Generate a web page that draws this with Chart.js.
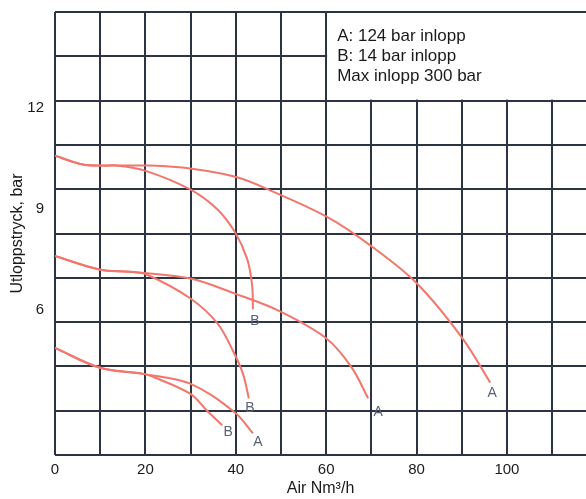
<!DOCTYPE html>
<html>
<head>
<meta charset="utf-8">
<script src="https://cdn.jsdelivr.net/npm/chart.js@4.4.0/dist/chart.umd.min.js"></script>
<style>
  html, body { margin: 0; padding: 0; background: #fff; overflow: hidden; }
  #wrap { width: 586px; height: 499px; }
</style>
</head>
<body>
<div id="wrap"><canvas id="chart"></canvas></div>
<script>
// Data (x: Air Nm³/h, y: bar)
const topAX = [0, 6.2, 10, 13.7, 21, 29.9, 40.3, 47.6, 60.2, 70.2, 80.1, 90.1, 96.3];
const topAY = [10.58, 10.32, 10.29, 10.29, 10.29, 10.2, 9.94, 9.55, 8.76, 7.87, 6.78, 5.16, 3.83];
const topBX = [0, 6.2, 10, 13.7, 19.9, 29.9, 35.9, 39.8, 42.5, 43.6, 43.8];
const topBY = [10.58, 10.32, 10.29, 10.29, 10.14, 9.58, 8.99, 8.31, 7.52, 6.75, 6.01];
const midAX = [0, 10, 16.6, 29.9, 39.8, 49.8, 60.2, 65.7, 69.3];
const midAY = [7.6, 7.19, 7.13, 6.93, 6.48, 5.95, 5.13, 4.27, 3.36];
const midBX = [0, 10, 16.6, 20.4, 29.9, 35.9, 39.4, 41.6, 42.9];
const midBY = [7.6, 7.19, 7.13, 7.04, 6.34, 5.6, 4.77, 4.09, 3.36];
const lowAX = [0, 10, 19.5, 29.9, 39.8, 43.8];
const lowAY = [4.86, 4.27, 4.09, 3.8, 2.94, 2.32];
const lowBX = [0, 10, 19.5, 21, 29.9, 33.6, 37.0];
const lowBY = [4.86, 4.27, 4.09, 4.04, 3.5, 3.0, 2.56];

const curveNames = ['A', 'B', 'A', 'B', 'A', 'B'];
const xTicks = [0, 10, 20, 30, 40, 50, 60, 70, 80, 90, 100, 110];
const yTicks = [6, 9, 12];
const legendLines = ['A: 124 bar inlopp', 'B: 14 bar inlopp', 'Max inlopp 300 bar'];

const toPoints = (xs, ys) => xs.map((x, i) => ({ x: x, y: ys[i] }));

const curveColor = '#f2766c';
const gridColor = '#2c3444';
const textColor = '#1a1a1a';

// small offset for the A / B letter at the end of each curve
const endOffsets = [[2, 11], [2, 12], [10, 14], [1, 10], [5, 9], [6, 7]];

const series = [
  toPoints(topAX, topAY), toPoints(topBX, topBY),
  toPoints(midAX, midAY), toPoints(midBX, midBY),
  toPoints(lowAX, lowAY), toPoints(lowBX, lowBY)
];

const datasets = series.map((pts, i) => ({
  label: curveNames[i],
  data: pts,
  borderColor: curveColor,
  borderWidth: 2,
  pointRadius: 0,
  fill: false,
  tension: 0.35,
  endOffset: endOffsets[i]
}));

// Letters at the end of the curves + the text box in the corner
const notesPlugin = {
  id: 'notes',
  afterDraw(chart) {
    const ctx = chart.ctx;
    const x = chart.scales.x;
    const g = chart.scales.yGrid;
    const area = chart.chartArea;

    ctx.save();
    ctx.font = '14px "Liberation Sans Narrow", "Liberation Sans", Arial, sans-serif';
    ctx.fillStyle = '#5a6274';
    ctx.textAlign = 'center';
    ctx.textBaseline = 'middle';
    chart.data.datasets.forEach((ds, i) => {
      const meta = chart.getDatasetMeta(i);
      const last = meta.data[meta.data.length - 1];
      ctx.fillText(ds.label, last.x + ds.endOffset[0], last.y + ds.endOffset[1]);
    });

    // box over the upper right grid cells
    const bx = x.getPixelForValue(60);
    const by = g.getPixelForValue(8);
    ctx.fillStyle = '#fff';
    ctx.fillRect(bx + 1, area.top + 1, area.right - bx, by - area.top - 2);

    ctx.fillStyle = textColor;
    ctx.font = '17px "Liberation Sans", Arial, sans-serif';
    ctx.textAlign = 'left';
    ctx.textBaseline = 'alphabetic';
    legendLines.forEach((t, i) => {
      ctx.fillText(t, bx + 11, area.top + 29 + i * 20);
    });
    ctx.restore();
  }
};

new Chart('chart', {
  type: 'line',
  data: { datasets: datasets },
  options: {
    responsive: true,
    maintainAspectRatio: false,
    animation: false,
    layout: { padding: { top: 8, right: 0, left: 0, bottom: 0 } },
    plugins: {
      legend: { display: false },
      tooltip: { enabled: false }
    },
    scales: {
      x: {
        type: 'linear',
        min: 0,
        max: 117.5,
        afterBuildTicks: (s) => { s.ticks = xTicks.map(v => ({ value: v })); },
        afterFit: (s) => { s.height = 44; },
        grid: { color: gridColor, lineWidth: 2, drawTicks: false },
        border: { display: false },
        ticks: {
          color: textColor,
          padding: 6,
          maxRotation: 0,
          font: { size: 15, family: '"Liberation Sans", Arial, sans-serif' },
          callback: (v) => (v % 20 === 0 && v <= 100 ? v : '')
        },
        title: {
          display: true,
          text: 'Air Nm³/h',
          color: textColor,
          padding: { top: 0, bottom: 1 },
          font: { size: 16, family: '"Liberation Sans", Arial, sans-serif' }
        }
      },
      y: {
        type: 'linear',
        position: 'left',
        min: 1.675,
        max: 14.861,
        afterBuildTicks: (s) => { s.ticks = yTicks.map(v => ({ value: v })); },
        afterFit: (s) => { s.width = 55; },
        grid: { display: false },
        border: { display: false },
        ticks: {
          color: textColor,
          padding: 3,
          font: { size: 15, family: '"Liberation Sans", Arial, sans-serif' }
        },
        title: {
          display: true,
          text: 'Utloppstryck, bar',
          color: textColor,
          padding: { top: 8, bottom: 0 },
          font: { size: 16, family: '"Liberation Sans", Arial, sans-serif' }
        }
      },
      // only draws the horizontal grid lines (10 equal rows)
      yGrid: {
        type: 'linear',
        position: 'right',
        min: 0,
        max: 10,
        afterBuildTicks: (s) => {
          const t = [];
          for (let v = 0; v <= 10; v++) t.push({ value: v });
          s.ticks = t;
        },
        grid: { color: gridColor, lineWidth: 2, drawTicks: false },
        border: { display: false },
        ticks: { display: false }
      }
    }
  },
  plugins: [notesPlugin]
});
</script>
</body>
</html>
